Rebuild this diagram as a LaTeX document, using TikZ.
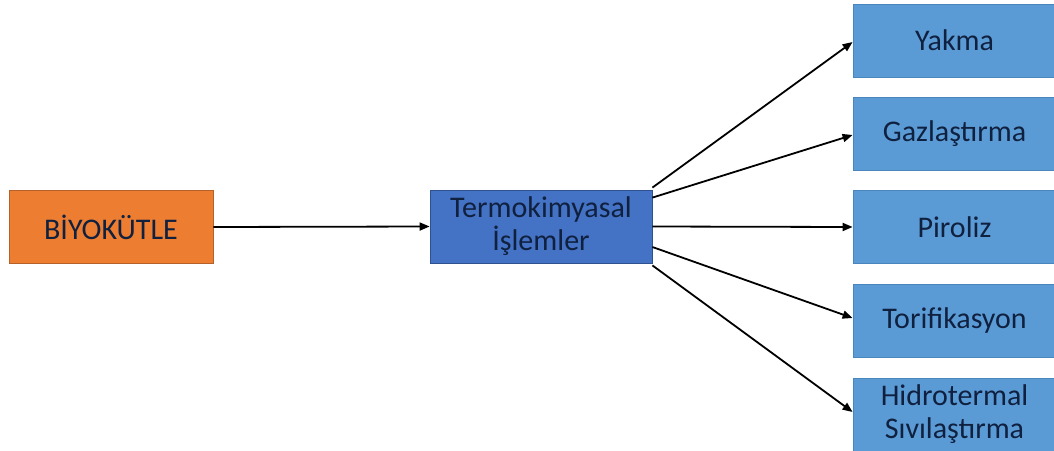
\documentclass[tikz,border=0pt]{standalone}
\usepackage{fontspec}
\setmainfont{Carlito}
\usetikzlibrary{arrows.meta}
\definecolor{orangefill}{HTML}{ED7D31}
\definecolor{orangeline}{HTML}{B5622A}
\definecolor{darkblue}{HTML}{4472C4}
\definecolor{darkblueline}{HTML}{2F528F}
\definecolor{lightblue}{HTML}{5B9BD5}
\definecolor{lightblueline}{HTML}{4A86BD}
\definecolor{txt}{HTML}{10203F}
\tikzset{
  box/.style={draw, line width=0.8pt, minimum height=73pt, inner sep=2pt, align=center,
    text=txt, font=\fontsize{30}{33}\selectfont},
  bio/.style={box, fill=orangefill, draw=orangeline, minimum width=204pt},
  termo/.style={box, fill=darkblue, draw=darkblueline, minimum width=222pt},
  rbox/.style={box, fill=lightblue, draw=lightblueline, minimum width=203pt},
  arr/.style={line width=1.8pt, -{Triangle[length=10pt,width=8pt]}}
}
\begin{document}
\begin{tikzpicture}[x=1pt,y=-1pt]
\useasboundingbox (0,0) rectangle (1054,450);
\clip (0,0) rectangle (1054,450);
\fill[white] (0,0) rectangle (1054,450);
\node[bio] (bio) at (111,227) {BİYOKÜTLE};
\node[termo] (termo) at (541,226.5) {Termokimyasal\\İşlemler};
\node[rbox] (yakma) at (954.5,40.5) {Yakma};
\node[rbox] (gaz) at (954.5,134) {Gazlaştırma};
\node[rbox] (piroliz) at (954.5,227) {Piroliz};
\node[rbox] (tori) at (954.5,320.5) {Torifikasyon};
\node[rbox] (hidro) at (954.5,414.5) {Hidrotermal\\Sıvılaştırma};
\draw[arr] (bio.east) -- (termo.west);
\draw[arr] ([yshift=2pt]termo.north east) -- ([yshift=-1.5pt]yakma.west);
\draw[arr] ([yshift=-8pt]termo.north east) -- ([yshift=-1pt]gaz.west);
\draw[arr] (termo.east) -- (piroliz.west);
\draw[arr] ([yshift=-20.5pt]termo.east) -- ([yshift=2.5pt]tori.west);
\draw[arr] ([yshift=-2pt]termo.south east) -- ([yshift=2.5pt]hidro.west);
\end{tikzpicture}
\end{document}
